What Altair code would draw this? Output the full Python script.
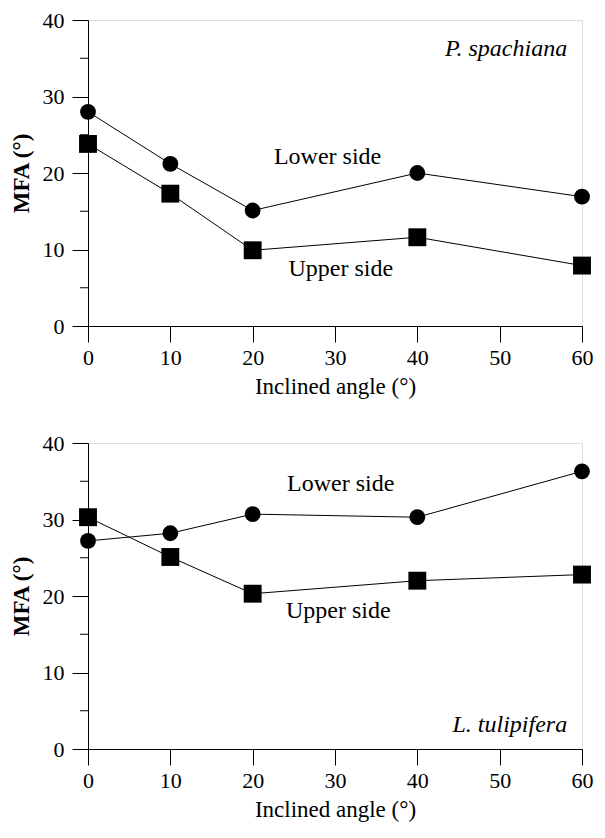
import altair as alt
import pandas as pd

# ---- data ----
angles = [0, 10, 20, 40, 60]
sides = ["Lower side", "Upper side"]

ps_lower = [28.0, 21.2, 15.1, 20.0, 16.9]   # P. spachiana, lower side
ps_upper = [23.8, 17.3, 9.9, 11.6, 7.9]     # P. spachiana, upper side
lt_lower = [27.2, 28.2, 30.7, 30.3, 36.3]   # L. tulipifera, lower side
lt_upper = [30.3, 25.1, 20.3, 22.0, 22.8]   # L. tulipifera, upper side

x_ticks = [0, 10, 20, 30, 40, 50, 60]
y_ticks = [0, 10, 20, 30, 40]
y_minor = [5, 15, 25, 35]

# annotations (data coordinates)
ps_labels = ["Lower side", "Upper side"]
ps_label_x = [29.1, 30.7]
ps_label_y = [22.1, 7.4]
lt_labels = ["Lower side", "Upper side"]
lt_label_x = [30.7, 30.4]
lt_label_y = [34.7, 18.1]
species = ["P. spachiana", "L. tulipifera"]
species_x = [58.2, 58.2]
species_y = [36.2, 3.2]

SERIF = "Liberation Serif"
W, H = 494, 306

xscale = alt.Scale(domain=[0, 60], nice=False, zero=False)
yscale = alt.Scale(domain=[0, 40], nice=False)

xaxis = alt.Axis(values=x_ticks, tickSize=16, labelFont=SERIF, labelFontSize=22,
                 labelColor="black", titleFont=SERIF, titleFontSize=23,
                 titleFontWeight="normal", titleColor="black", grid=False,
                 domainColor="black", tickColor="black", labelPadding=5,
                 titlePadding=7, labelFlush=False, labelOverlap=False, format="d")
yaxis = alt.Axis(values=y_ticks, tickSize=16, labelFont=SERIF, labelFontSize=22,
                 labelColor="black", titleFont=SERIF, titleFontSize=23,
                 titleFontWeight="bold", titleColor="black", grid=False,
                 domainColor="black", tickColor="black", labelPadding=8,
                 titlePadding=9, labelFlush=False, labelOverlap=False, format="d")

X = alt.X("x:Q", scale=xscale, axis=xaxis, title="Inclined angle (°)")
Y = alt.Y("y:Q", scale=yscale, axis=yaxis, title="MFA (°)")


def panel(lower, upper, lab, lab_x, lab_y, sp, sp_x, sp_y):
    df = pd.DataFrame({
        "x": angles * 2,
        "y": lower + upper,
        "side": [sides[0]] * len(angles) + [sides[1]] * len(angles),
    })
    lines = alt.Chart(df).mark_line(color="black", strokeWidth=1).encode(
        x=X, y=Y, detail="side:N")
    pts = alt.Chart(df).mark_point(filled=True, opacity=1, color="black").encode(
        x=X, y=Y,
        shape=alt.Shape("side:N", scale=alt.Scale(domain=sides, range=["circle", "square"]), legend=None),
        size=alt.Size("side:N", scale=alt.Scale(domain=sides, range=[250, 320]), legend=None),
    )
    minor = alt.Chart(pd.DataFrame({"y": y_minor})).mark_rule(color="black", strokeWidth=1).encode(
        y=Y, x=alt.value(-8), x2=alt.value(0))
    ann = alt.Chart(pd.DataFrame({"x": lab_x, "y": lab_y, "t": lab})).mark_text(
        font=SERIF, fontSize=24, color="black", align="center", baseline="middle").encode(
        x=X, y=Y, text="t:N")
    spc = alt.Chart(pd.DataFrame({"x": [sp_x], "y": [sp_y], "t": [sp]})).mark_text(
        font=SERIF, fontSize=24, fontStyle="italic", color="black", align="right",
        baseline="middle").encode(x=X, y=Y, text="t:N")
    return alt.layer(lines, pts, minor, ann, spc).properties(width=W, height=H)


top = panel(ps_lower, ps_upper, ps_labels, ps_label_x, ps_label_y, species[0], species_x[0], species_y[0])
bottom = panel(lt_lower, lt_upper, lt_labels, lt_label_x, lt_label_y, species[1], species_x[1], species_y[1])

chart = alt.vconcat(top, bottom, spacing=32).properties(
    padding={"left": 1, "top": 0, "right": 0, "bottom": 0}
).configure_view(stroke="black", strokeWidth=1).configure(background="white")

chart.save("out.html", embed_options={"renderer": "svg", "actions": False})
